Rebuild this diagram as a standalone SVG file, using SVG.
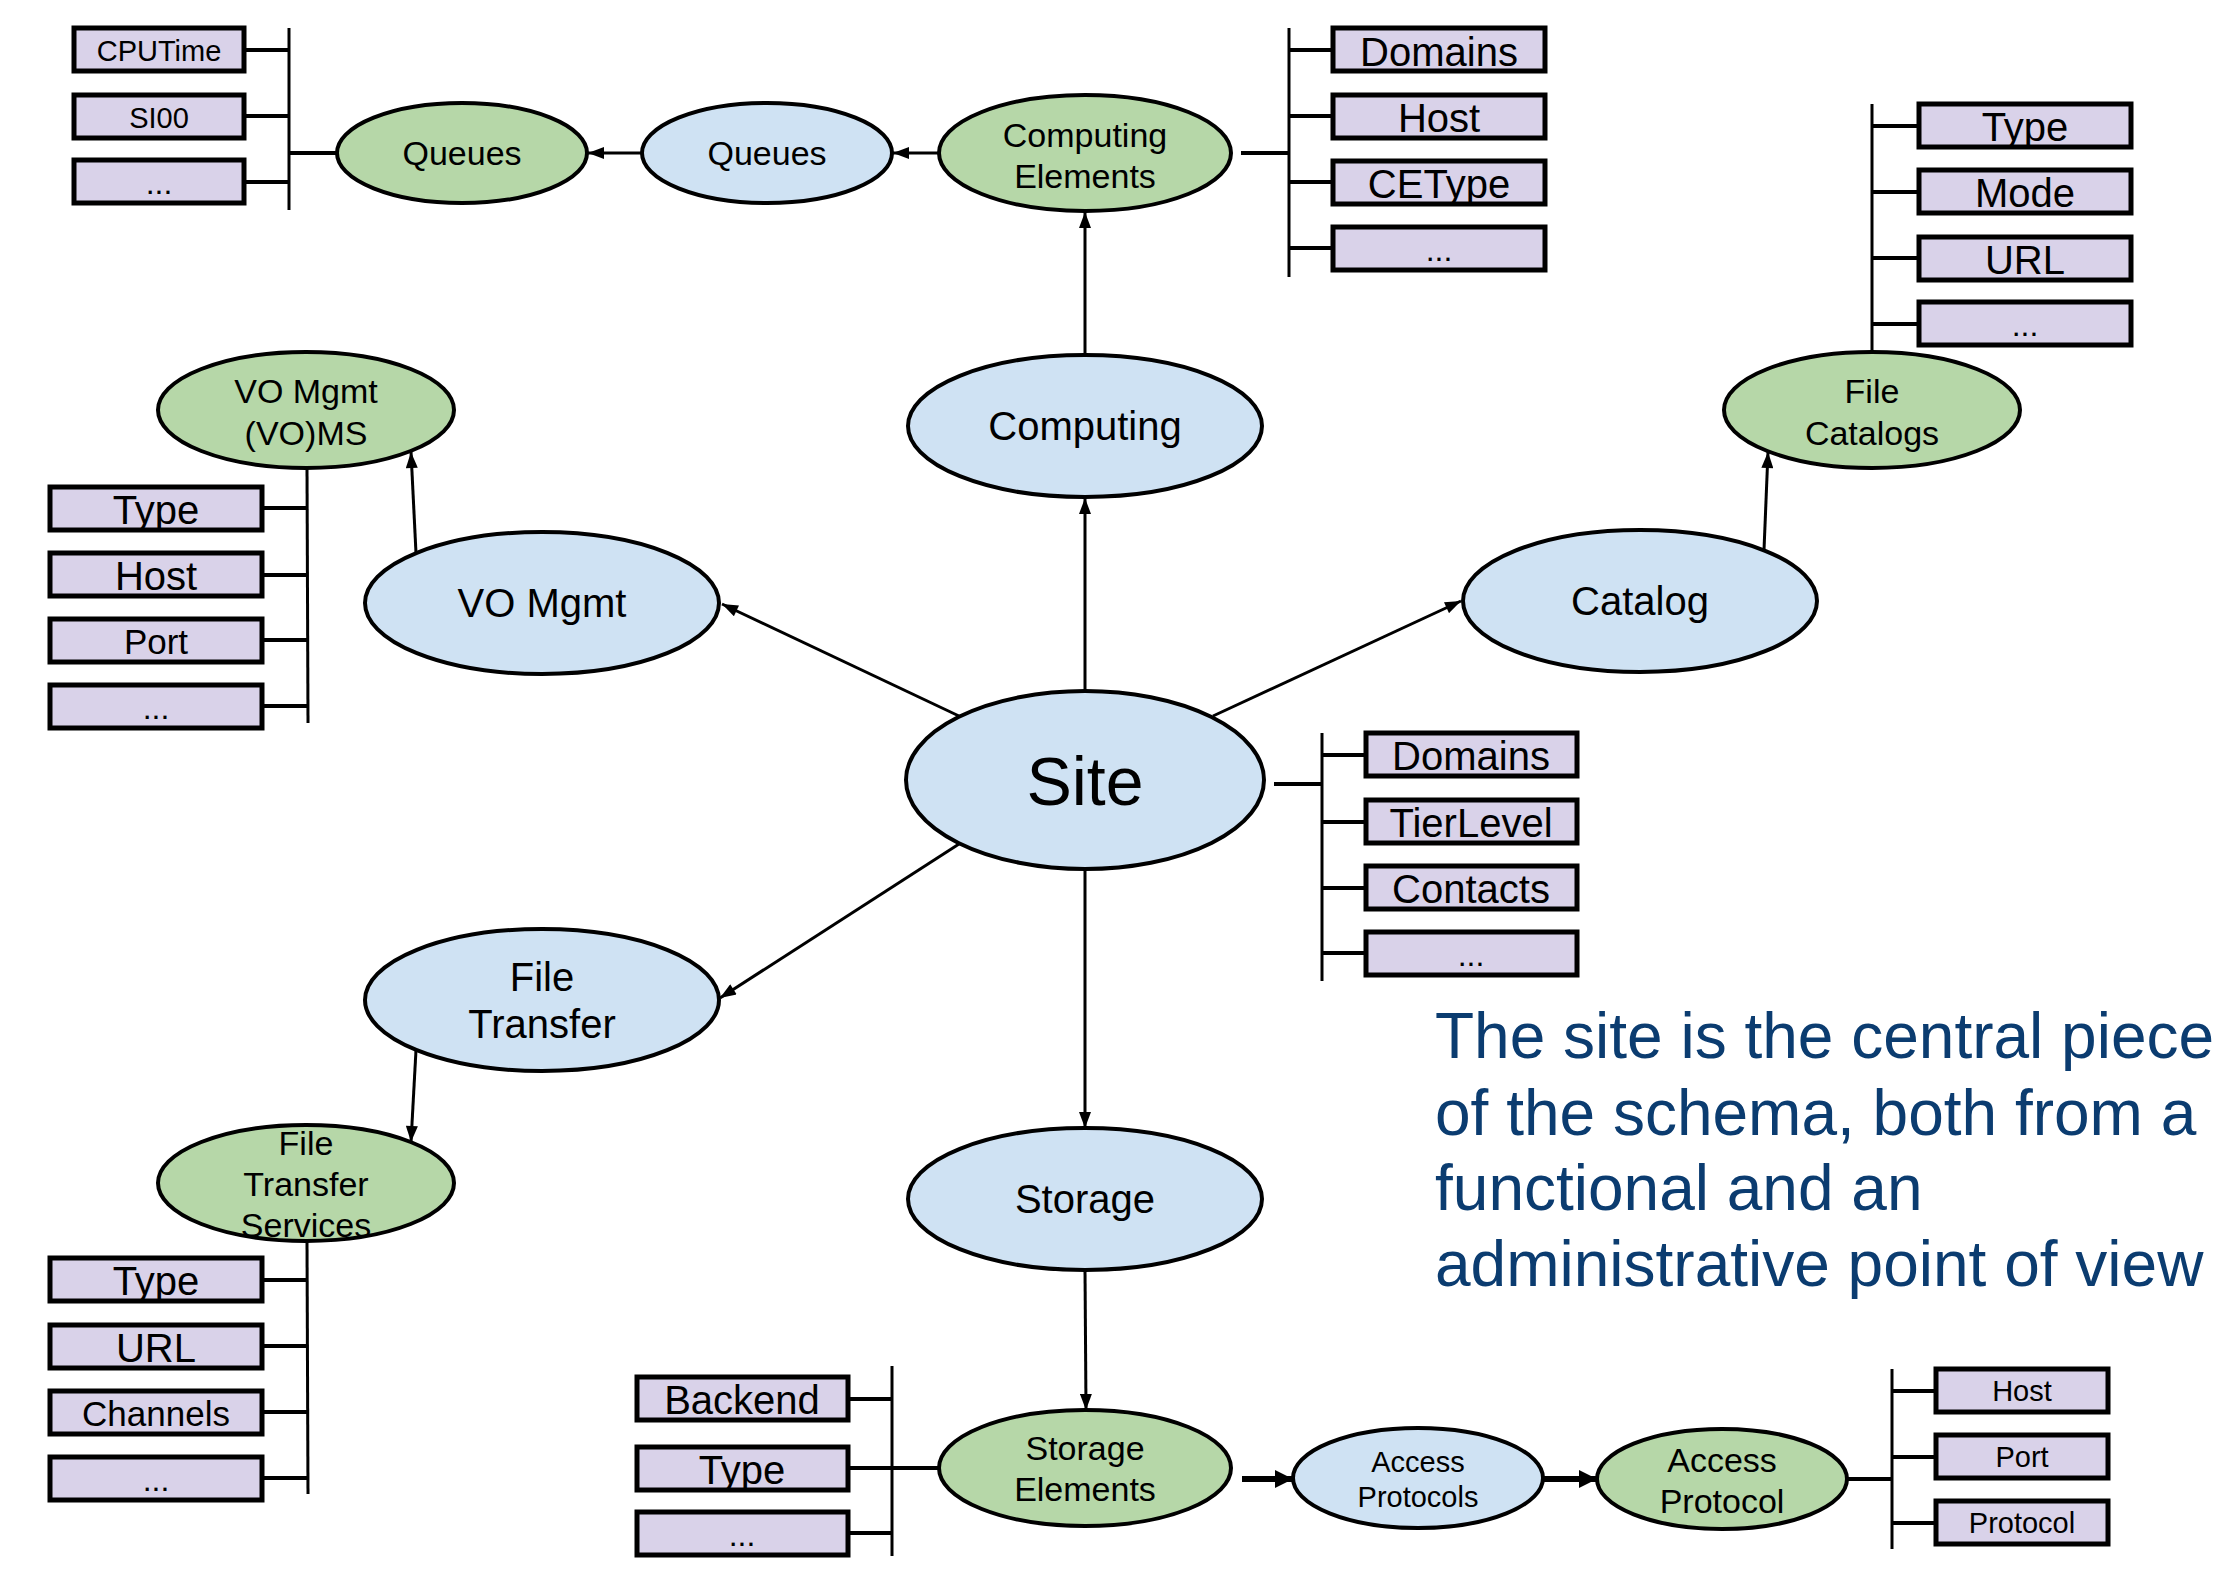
<svg xmlns="http://www.w3.org/2000/svg" width="2224" height="1571" viewBox="0 0 2224 1571">
<defs>
<marker id="arr" viewBox="0 0 16 12" refX="16" refY="6" markerWidth="17" markerHeight="12" markerUnits="userSpaceOnUse" orient="auto">
<path d="M0,0 L16,6 L0,12 z" fill="#000"/>
</marker>
<marker id="arrBig" viewBox="0 0 16 16" refX="16" refY="8" markerWidth="18" markerHeight="18" markerUnits="userSpaceOnUse" orient="auto">
<path d="M0,0 L16,8 L0,16 z" fill="#000"/>
</marker>
<style>
.blue{fill:#cfe2f3;stroke:#000;stroke-width:4}
.green{fill:#b6d7a8;stroke:#000;stroke-width:4}
.box{fill:#d9d2e9;stroke:#000;stroke-width:5}
.t{font-family:"Liberation Sans",Arial,sans-serif;fill:#000;text-anchor:middle}
.f40{font-size:40px}
.f35{font-size:35px}
.f34{font-size:34px}
.f29{font-size:29px}
.f32{font-size:32px}
.edge{stroke:#000;stroke-width:3;fill:none}
.tick{stroke:#000;stroke-width:4;fill:none}
.thick{stroke:#000;stroke-width:6;fill:none}
.brk{stroke:#000;stroke-width:3;fill:none}
.note{font-family:"Liberation Sans",Arial,sans-serif;font-size:64px;fill:#0b3c70}
</style>
</defs>
<rect width="2224" height="1571" fill="#fff"/>

<g id="connectors">
<line class="edge" x1="642" y1="153" x2="588" y2="153" marker-end="url(#arr)"/>
<line class="edge" x1="939" y1="153" x2="893" y2="153" marker-end="url(#arr)"/>
<line class="edge" x1="1085" y1="355" x2="1085" y2="212" marker-end="url(#arr)"/>
<line class="edge" x1="1085" y1="691" x2="1085" y2="498" marker-end="url(#arr)"/>
<line class="edge" x1="959" y1="716" x2="722" y2="604" marker-end="url(#arr)"/>
<line class="edge" x1="416" y1="553" x2="411" y2="452" marker-end="url(#arr)"/>
<line class="edge" x1="1213" y1="716" x2="1461" y2="601" marker-end="url(#arr)"/>
<line class="edge" x1="1764" y1="550" x2="1768" y2="452" marker-end="url(#arr)"/>
<line class="edge" x1="959" y1="844" x2="720" y2="998" marker-end="url(#arr)"/>
<line class="edge" x1="416" y1="1050" x2="411" y2="1142" marker-end="url(#arr)"/>
<line class="edge" x1="1085" y1="869" x2="1085" y2="1128" marker-end="url(#arr)"/>
<line class="edge" x1="1085" y1="1270" x2="1086" y2="1410" marker-end="url(#arr)"/>
<line class="thick" x1="1242" y1="1479" x2="1293" y2="1479" marker-end="url(#arrBig)"/>
<line class="thick" x1="1543" y1="1479" x2="1597" y2="1479" marker-end="url(#arrBig)"/>

<!-- Queues attribute bracket -->
<line class="brk" x1="289" y1="28" x2="289" y2="210"/>
<line class="tick" x1="289" y1="153" x2="337" y2="153"/>
<line class="tick" x1="244" y1="50" x2="289" y2="50"/>
<line class="tick" x1="244" y1="116" x2="289" y2="116"/>
<line class="tick" x1="244" y1="182" x2="289" y2="182"/>
<!-- CE bracket -->
<line class="brk" x1="1289" y1="28" x2="1289" y2="277"/>
<line class="tick" x1="1241" y1="153" x2="1289" y2="153"/>
<line class="tick" x1="1289" y1="50" x2="1333" y2="50"/>
<line class="tick" x1="1289" y1="116" x2="1333" y2="116"/>
<line class="tick" x1="1289" y1="182" x2="1333" y2="182"/>
<line class="tick" x1="1289" y1="248" x2="1333" y2="248"/>
<!-- FC bracket -->
<line class="brk" x1="1872" y1="104" x2="1872" y2="352"/>
<line class="tick" x1="1872" y1="126" x2="1919" y2="126"/>
<line class="tick" x1="1872" y1="192" x2="1919" y2="192"/>
<line class="tick" x1="1872" y1="258" x2="1919" y2="258"/>
<line class="tick" x1="1872" y1="324" x2="1919" y2="324"/>
<!-- VOMS bracket -->
<line class="brk" x1="307" y1="468" x2="308" y2="723"/>
<line class="tick" x1="262" y1="508" x2="308" y2="508"/>
<line class="tick" x1="262" y1="575" x2="308" y2="575"/>
<line class="tick" x1="262" y1="640" x2="308" y2="640"/>
<line class="tick" x1="262" y1="706" x2="308" y2="706"/>
<!-- Site bracket -->
<line class="brk" x1="1322" y1="733" x2="1322" y2="981"/>
<line class="tick" x1="1274" y1="784" x2="1322" y2="784"/>
<line class="tick" x1="1322" y1="755" x2="1366" y2="755"/>
<line class="tick" x1="1322" y1="822" x2="1366" y2="822"/>
<line class="tick" x1="1322" y1="888" x2="1366" y2="888"/>
<line class="tick" x1="1322" y1="953" x2="1366" y2="953"/>
<!-- FTS bracket -->
<line class="brk" x1="307" y1="1241" x2="308" y2="1494"/>
<line class="tick" x1="262" y1="1280" x2="308" y2="1280"/>
<line class="tick" x1="262" y1="1346" x2="308" y2="1346"/>
<line class="tick" x1="262" y1="1412" x2="308" y2="1412"/>
<line class="tick" x1="262" y1="1478" x2="308" y2="1478"/>
<!-- SE bracket -->
<line class="brk" x1="892" y1="1366" x2="892" y2="1556"/>
<line class="tick" x1="892" y1="1468" x2="939" y2="1468"/>
<line class="tick" x1="848" y1="1399" x2="892" y2="1399"/>
<line class="tick" x1="848" y1="1468" x2="892" y2="1468"/>
<line class="tick" x1="848" y1="1533" x2="892" y2="1533"/>
<!-- AP bracket -->
<line class="brk" x1="1892" y1="1369" x2="1892" y2="1549"/>
<line class="tick" x1="1847" y1="1479" x2="1892" y2="1479"/>
<line class="tick" x1="1892" y1="1391" x2="1936" y2="1391"/>
<line class="tick" x1="1892" y1="1457" x2="1936" y2="1457"/>
<line class="tick" x1="1892" y1="1523" x2="1936" y2="1523"/>
</g>

<g id="site"><ellipse class="blue" cx="1085" cy="780" rx="179" ry="89"/><text class="t" x="1085" y="805" font-size="68">Site</text></g>
<g id="computing"><ellipse class="blue" cx="1085" cy="426" rx="177" ry="71"/><text class="t f40" x="1085" y="440">Computing</text></g>
<g id="vo-mgmt"><ellipse class="blue" cx="542" cy="603" rx="177" ry="71"/><text class="t f40" x="542" y="617">VO Mgmt</text></g>
<g id="catalog"><ellipse class="blue" cx="1640" cy="601" rx="177" ry="71"/><text class="t f40" x="1640" y="615">Catalog</text></g>
<g id="file-transfer"><ellipse class="blue" cx="542" cy="1000" rx="177" ry="71"/><text class="t f40" x="542" y="991">File</text><text class="t f40" x="542" y="1038">Transfer</text></g>
<g id="storage"><ellipse class="blue" cx="1085" cy="1199" rx="177" ry="71"/><text class="t f40" x="1085" y="1213">Storage</text></g>

<g id="computing-elements"><ellipse class="green" cx="1085" cy="153" rx="146" ry="58"/><text class="t f34" x="1085" y="147">Computing</text><text class="t f34" x="1085" y="188">Elements</text></g>
<g id="queues-blue"><ellipse class="blue" cx="767" cy="153" rx="125" ry="50"/><text class="t f34" x="767" y="165">Queues</text></g>
<g id="queues-green"><ellipse class="green" cx="462" cy="153" rx="125" ry="50"/><text class="t f34" x="462" y="165">Queues</text></g>
<g id="voms"><ellipse class="green" cx="306" cy="410" rx="148" ry="58"/><text class="t f34" x="306" y="403">VO Mgmt</text><text class="t f34" x="306" y="445">(VO)MS</text></g>
<g id="file-catalogs"><ellipse class="green" cx="1872" cy="410" rx="148" ry="58"/><text class="t f34" x="1872" y="403">File</text><text class="t f34" x="1872" y="445">Catalogs</text></g>
<g id="fts"><ellipse class="green" cx="306" cy="1183" rx="148" ry="58"/><text class="t f34" x="306" y="1155">File</text><text class="t f34" x="306" y="1196">Transfer</text><text class="t f34" x="306" y="1237">Services</text></g>
<g id="storage-elements"><ellipse class="green" cx="1085" cy="1468" rx="146" ry="58"/><text class="t f34" x="1085" y="1460">Storage</text><text class="t f34" x="1085" y="1501">Elements</text></g>
<g id="access-protocols"><ellipse class="blue" cx="1418" cy="1478" rx="125" ry="50"/><text class="t f29" x="1418" y="1472">Access</text><text class="t f29" x="1418" y="1507">Protocols</text></g>
<g id="access-protocol"><ellipse class="green" cx="1722" cy="1479" rx="125" ry="50"/><text class="t f34" x="1722" y="1472">Access</text><text class="t f34" x="1722" y="1513">Protocol</text></g>

<g id="queues-attrs">
<rect class="box" x="74" y="28" width="170" height="43"/><text class="t f29" x="159" y="61">CPUTime</text>
<rect class="box" x="74" y="95" width="170" height="43"/><text class="t f29" x="159" y="128">SI00</text>
<rect class="box" x="74" y="160" width="170" height="43"/><text class="t f32" x="159" y="194">...</text>
</g>
<g id="ce-attrs">
<rect class="box" x="1333" y="28" width="212" height="43"/><text class="t f40" x="1439" y="66">Domains</text>
<rect class="box" x="1333" y="95" width="212" height="43"/><text class="t f40" x="1439" y="132">Host</text>
<rect class="box" x="1333" y="161" width="212" height="43"/><text class="t f40" x="1439" y="198">CEType</text>
<rect class="box" x="1333" y="227" width="212" height="43"/><text class="t f32" x="1439" y="261">...</text>
</g>
<g id="fc-attrs">
<rect class="box" x="1919" y="104" width="212" height="43"/><text class="t f40" x="2025" y="141">Type</text>
<rect class="box" x="1919" y="170" width="212" height="43"/><text class="t f40" x="2025" y="207">Mode</text>
<rect class="box" x="1919" y="237" width="212" height="43"/><text class="t f40" x="2025" y="274">URL</text>
<rect class="box" x="1919" y="302" width="212" height="43"/><text class="t f32" x="2025" y="336">...</text>
</g>
<g id="voms-attrs">
<rect class="box" x="50" y="487" width="212" height="43"/><text class="t f40" x="156" y="524">Type</text>
<rect class="box" x="50" y="553" width="212" height="43"/><text class="t f40" x="156" y="590">Host</text>
<rect class="box" x="50" y="619" width="212" height="43"/><text class="t f35" x="156" y="654">Port</text>
<rect class="box" x="50" y="685" width="212" height="43"/><text class="t f32" x="156" y="719">...</text>
</g>
<g id="site-attrs">
<rect class="box" x="1366" y="733" width="211" height="43"/><text class="t f40" x="1471" y="770">Domains</text>
<rect class="box" x="1366" y="800" width="211" height="43"/><text class="t f40" x="1471" y="837">TierLevel</text>
<rect class="box" x="1366" y="866" width="211" height="43"/><text class="t f40" x="1471" y="903">Contacts</text>
<rect class="box" x="1366" y="932" width="211" height="43"/><text class="t f32" x="1471" y="966">...</text>
</g>
<g id="fts-attrs">
<rect class="box" x="50" y="1258" width="212" height="43"/><text class="t f40" x="156" y="1295">Type</text>
<rect class="box" x="50" y="1325" width="212" height="43"/><text class="t f40" x="156" y="1362">URL</text>
<rect class="box" x="50" y="1391" width="212" height="43"/><text class="t f35" x="156" y="1426">Channels</text>
<rect class="box" x="50" y="1457" width="212" height="43"/><text class="t f32" x="156" y="1491">...</text>
</g>
<g id="se-attrs">
<rect class="box" x="637" y="1377" width="211" height="43"/><text class="t f40" x="742" y="1414">Backend</text>
<rect class="box" x="637" y="1447" width="211" height="43"/><text class="t f40" x="742" y="1484">Type</text>
<rect class="box" x="637" y="1512" width="211" height="43"/><text class="t f32" x="742" y="1546">...</text>
</g>
<g id="ap-attrs">
<rect class="box" x="1936" y="1369" width="172" height="43"/><text class="t f29" x="2022" y="1401">Host</text>
<rect class="box" x="1936" y="1435" width="172" height="43"/><text class="t f29" x="2022" y="1467">Port</text>
<rect class="box" x="1936" y="1501" width="172" height="43"/><text class="t f29" x="2022" y="1533">Protocol</text>
</g>

<g id="note">
<text class="note" x="1435" y="1058">The site is the central piece</text>
<text class="note" x="1435" y="1135">of the schema, both from a</text>
<text class="note" x="1435" y="1210">functional and an</text>
<text class="note" x="1435" y="1286">administrative point of view</text>
</g>
</svg>
